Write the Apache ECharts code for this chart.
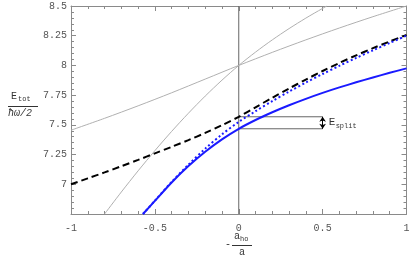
<!DOCTYPE html>
<html>
<head>
<meta charset="utf-8">
<script src="https://cdn.jsdelivr.net/npm/echarts@6/dist/echarts.min.js"></script>
<style>html,body{margin:0;padding:0;background:#fff}#c{width:415px;height:257px}</style>
</head>
<body>
<div id="c"></div>
<script>
// ---- data ----
const xTicks = [-1, -0.5, 0, 0.5, 1];
const yTicks = [6.75, 7, 7.25, 7.5, 7.75, 8, 8.25, 8.5];

const grayShallowX = [-1, -0.8, -0.6, -0.4, -0.2, 0, 0.2, 0.4, 0.6, 0.8, 1.0];
const grayShallowY = [7.455, 7.555, 7.66, 7.77, 7.885, 8.0, 8.11, 8.215, 8.315, 8.41, 8.5];

const graySteepX = [-0.8, -0.7, -0.6, -0.5, -0.4, -0.3, -0.2, -0.1, 0, 0.1, 0.2, 0.3, 0.4, 0.5, 0.525];
const graySteepY = [6.75, 6.935, 7.113, 7.283, 7.445, 7.598, 7.742, 7.876, 8.0, 8.112, 8.215, 8.31, 8.398, 8.48, 8.5];

const dashedX = [-1, -0.9, -0.8, -0.7, -0.6, -0.5, -0.4, -0.3, -0.2, -0.1, 0, 0.1, 0.2, 0.3, 0.4, 0.5, 0.6, 0.7, 0.8, 0.9, 1.0];
const dashedY = [7.0, 7.05, 7.1, 7.152, 7.205, 7.26, 7.315, 7.372, 7.432, 7.497, 7.568, 7.648, 7.728, 7.806, 7.881, 7.953, 8.021, 8.085, 8.145, 8.202, 8.256];

const dottedX = [-0.571, -0.5, -0.4, -0.3, -0.2, -0.1, 0, 0.1, 0.2, 0.3, 0.4, 0.5, 0.6, 0.7, 0.8, 0.9, 1.0];
const dottedY = [6.75, 6.862, 7.02, 7.165, 7.3, 7.42, 7.525, 7.615, 7.7, 7.78, 7.856, 7.928, 7.997, 8.063, 8.127, 8.189, 8.25];

const solidX = [-0.571, -0.5, -0.4, -0.3, -0.2, -0.1, 0, 0.1, 0.2, 0.3, 0.4, 0.5, 0.6, 0.7, 0.8, 0.9, 1.0];
const solidY = [6.75, 6.86, 7.015, 7.153, 7.274, 7.378, 7.467, 7.541, 7.606, 7.665, 7.719, 7.769, 7.815, 7.858, 7.899, 7.938, 7.975];

const splitX = [0, 0.5];
const splitUpper = 7.568;
const splitLower = 7.467;
const zeroLineX = [0, 0];

// ---- chart ----
const zip = (xs, ys) => xs.map((x, i) => [x, ys[i]]);
const FONT = 'Liberation Mono';
const frameColor = '#8a8a8a';
const labelColor = '#555';
const xMin = xTicks[0], xMax = xTicks[xTicks.length - 1];
const yMin = yTicks[0], yMax = yTicks[yTicks.length - 1];

function axisBase(extra) {
  return Object.assign({
    type: 'value',
    axisLine: { show: true, onZero: false, lineStyle: { color: frameColor, width: 1 } },
    axisTick: { show: true, inside: true, length: 5, lineStyle: { color: frameColor } },
    minorTick: { show: true, splitNumber: 5, length: 3, lineStyle: { color: frameColor } },
    splitLine: { show: false },
    minorSplitLine: { show: false }
  }, extra);
}

const chart = echarts.init(document.getElementById('c'), null, { renderer: 'canvas' });
const option = {
  animation: false,
  backgroundColor: '#fff',
  grid: { left: 71, right: 8.5, top: 6, bottom: 43, containLabel: false },
  xAxis: [
    axisBase({ position: 'bottom', min: xMin, max: xMax, interval: 0.5,
      axisLabel: { show: true, margin: 9, fontFamily: FONT, fontSize: 10, color: labelColor,
        formatter: v => String(v) } }),
    axisBase({ position: 'top', min: xMin, max: xMax, interval: 0.5, axisLabel: { show: false } })
  ],
  yAxis: [
    axisBase({ position: 'left', min: yMin, max: yMax, interval: 0.25,
      axisLabel: { show: true, margin: 4, fontFamily: FONT, fontSize: 10, color: labelColor,
        formatter: v => (Math.abs(v - yMin) < 1e-9 ? '' : String(v)) } }),
    axisBase({ position: 'right', min: yMin, max: yMax, interval: 0.25, axisLabel: { show: false } })
  ],
  series: [
    { type: 'line', data: zip(zeroLineX, [yMin, yMax]), showSymbol: false, silent: true,
      lineStyle: { color: '#666', width: 1 } },
    { type: 'line', data: zip(grayShallowX, grayShallowY), showSymbol: false, smooth: 0.3, silent: true,
      lineStyle: { color: '#b0b0b0', width: 1 } },
    { type: 'line', data: zip(graySteepX, graySteepY), showSymbol: false, smooth: 0.3, silent: true,
      lineStyle: { color: '#b0b0b0', width: 1 } },
    { type: 'line', data: zip(splitX, [splitUpper, splitUpper]), showSymbol: false, silent: true,
      lineStyle: { color: '#666', width: 1 } },
    { type: 'line', data: zip(splitX, [splitLower, splitLower]), showSymbol: false, silent: true,
      lineStyle: { color: '#666', width: 1 },
      markLine: {
        silent: true, symbol: ['arrow', 'arrow'], symbolSize: [5, 5],
        label: { show: false },
        lineStyle: { color: '#000', width: 1, type: 'solid' },
        data: [[{ coord: [splitX[1], splitUpper] }, { coord: [splitX[1], splitLower] }]]
      } },
    { type: 'line', data: zip(dashedX, dashedY), showSymbol: false, smooth: 0.3, silent: true,
      lineStyle: { color: '#000', width: 2, type: [7, 4] } },
    { type: 'line', data: zip(dottedX, dottedY), showSymbol: false, smooth: 0.3, silent: true,
      lineStyle: { color: '#1a1aff', width: 2, type: [2, 2.5] } },
    { type: 'line', data: zip(solidX, solidY), showSymbol: false, smooth: 0.3, silent: true,
      lineStyle: { color: '#1a1aff', width: 2 } }
  ]
};
chart.setOption(option);

// labels
const p = chart.convertToPixel({ xAxisIndex: 0, yAxisIndex: 0 }, [splitX[1], (splitUpper + splitLower) / 2]);
chart.setOption({
  graphic: [
    // y-axis fraction label
    { type: 'text', left: 11, top: 91, style: { text: 'E', font: '10px ' + FONT, fill: '#333' } },
    { type: 'text', left: 18, top: 96, style: { text: 'tot', font: '7px ' + FONT, fill: '#333' } },
    { type: 'line', shape: { x1: 8, y1: 106.5, x2: 38, y2: 106.5 }, style: { stroke: '#333', lineWidth: 1 } },
    { type: 'text', left: 8, top: 108, style: { text: 'ħω/2', font: 'italic 10px ' + FONT, fill: '#333' } },
    // x-axis fraction label
    { type: 'text', left: 225, top: 239, style: { text: '-', font: '10px ' + FONT, fill: '#333' } },
    { type: 'text', left: 234, top: 231, style: { text: 'a', font: '10px ' + FONT, fill: '#333' } },
    { type: 'text', left: 240, top: 236, style: { text: 'ho', font: '7px ' + FONT, fill: '#333' } },
    { type: 'line', shape: { x1: 232, y1: 245.5, x2: 252, y2: 245.5 }, style: { stroke: '#333', lineWidth: 1 } },
    { type: 'text', left: 239, top: 247, style: { text: 'a', font: '10px ' + FONT, fill: '#333' } },
    // E_split
    { type: 'text', x: p[0] + 6, y: p[1] - 6, style: { text: 'E', font: '11px ' + FONT, fill: '#333' } },
    { type: 'text', x: p[0] + 13, y: p[1] + 0, style: { text: 'split', font: '7px ' + FONT, fill: '#333' } }
  ]
});
</script>
</body>
</html>
